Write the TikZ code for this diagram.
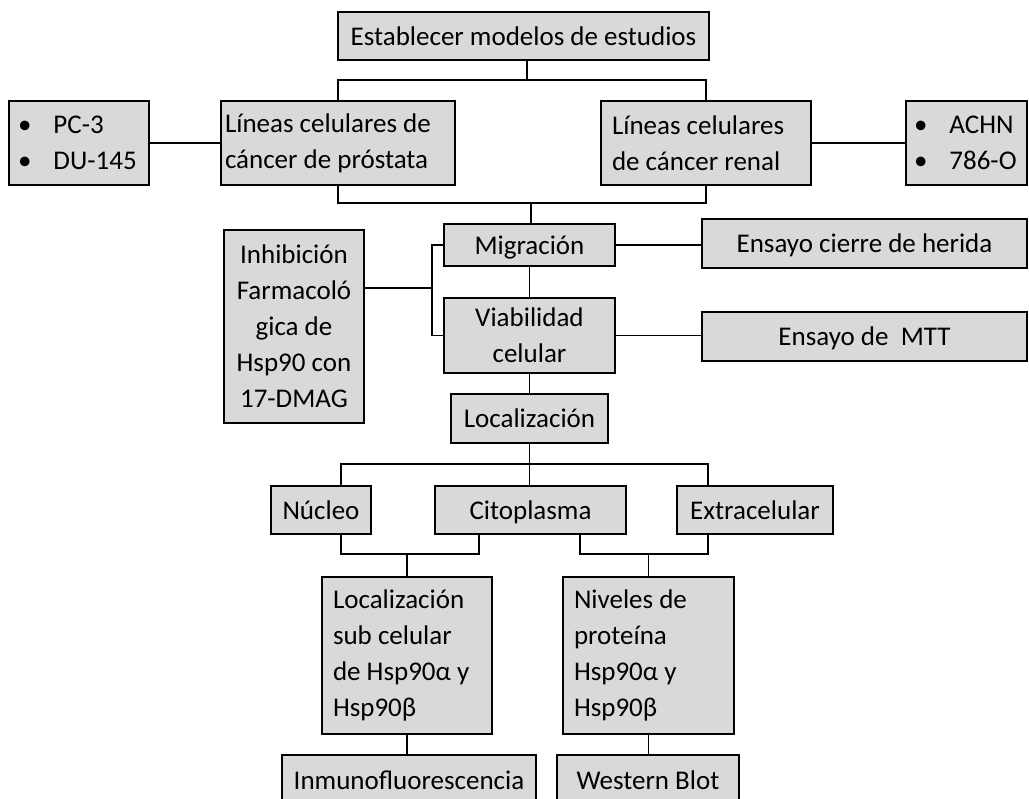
\documentclass[tikz,border=0pt]{standalone}
\usepackage{fontspec}
\setmainfont{Carlito}
\usepackage{tikz}
\usetikzlibrary{positioning}

\tikzset{
  cajabase/.style 2 args = {draw = black, fill = gray!30, line width = 1.8pt, inner sep = 0pt,
    minimum width = #1, minimum height = #2},
  caja/.style 2 args = {cajabase = {#1}{#2}, text height = 22pt, text depth = 3pt},
  cajaalta/.style 2 args = {cajabase = {#1}{#2}, align = center},
  cajaizq/.style 2 args = {cajabase = {#1}{#2}, text width = #1 - 22pt, align = flush left},
  linea/.style = {line width = 1.6pt, black}
}

\begin{document}
\begin{tikzpicture}[x = 1pt, y = -1pt, font = \fontsize{27}{36}\selectfont]
	\clip (0,0) rectangle (1029,799);
	\fill[white] (0,0) rectangle (1029,799);
	% nivel 1
	\node[caja = {371pt}{48pt}] (est) at (523.5,36) {Establecer modelos de estudios};
	\node[cajaizq = {234pt}{84pt}, text width = 226pt] (prost) at (338,143) {Líneas celulares de\\cáncer de próstata};
	\node[cajaizq = {210pt}{84pt}] (renal) at (706,143) {Líneas celulares\\de cáncer renal};
	\node[cajaizq = {140pt}{84pt}, text width = 122pt] (pc) at (79,143) {\textbullet\hspace{22pt}PC-3\\\textbullet\hspace{22pt}DU-145};
	\node[cajaizq = {121pt}{84pt}, text width = 105pt] (achn) at (966.5,143) {\textbullet\hspace{22pt}ACHN\\\textbullet\hspace{22pt}786-O};
	% nivel 2
	\node[caja = {171pt}{42pt}] (migr) at (529.5,245) {Migración};
	\node[cajaalta = {171pt}{75pt}] (viab) at (529.5,335.5) {Viabilidad\\celular};
	\node[cajaalta = {140pt}{193pt}] (inhib) at (294,326.5) {Inhibición\\Farmacoló\\gica de\\Hsp90 con\\17-DMAG};
	\node[caja = {325pt}{49pt}] (cierre) at (864.5,243.5) {Ensayo cierre de herida};
	\node[caja = {325pt}{49pt}] (mtt) at (864.5,336.5) {Ensayo de\ \ MTT};
	% nivel 3
	\node[caja = {157pt}{49pt}] (loc) at (529.5,418.5) {Localización};
	\node[caja = {100pt}{48pt}] (nuc) at (321,510) {Núcleo};
	\node[caja = {191pt}{48pt}] (cito) at (530.5,510) {Citoplasma};
	\node[caja = {156pt}{48pt}] (extra) at (755,510) {Extracelular};
	% nivel 4
	\node[cajaizq = {170pt}{157pt}] (subcel) at (407,655.5) {Localización\\sub celular\\de Hsp90α y\\Hsp90β};
	\node[cajaizq = {171pt}{157pt}] (niveles) at (648.5,655.5) {Niveles de\\proteína\\Hsp90α y\\Hsp90β};
	\node[caja = {254pt}{49pt}] (inmuno) at (409,779.5) {Inmunofluorescencia};
	\node[caja = {182pt}{49pt}] (western) at (648,779.5) {Western Blot};
	% uniones
	\coordinate (j1) at (527,80);
	\coordinate (j2) at (531,203);
	\coordinate (j3) at (432,288);
	\coordinate (j4a) at (341,464);
	\coordinate (j4b) at (708,464);
	\coordinate (j5a) at (341,554);
	\coordinate (j5b) at (479,554);
	\coordinate (j6a) at (580,554);
	\coordinate (j6b) at (708,554);
	\draw[linea] (est.south -| j1) -- (j1);
	\draw[linea] (prost.north) |- (j1) -| (renal.north);
	\draw[linea] (pc.east) -- (prost.west);
	\draw[linea] (renal.east) -- (achn.west);
	\draw[linea] (prost.south) |- (j2) -| (renal.south);
	\draw[linea] (j2) -- (j2 |- migr.north);
	\draw[linea] (migr.east) -- (migr.east -| cierre.west);
	\draw[linea] (migr.south) -- (viab.north);
	\draw[linea] (viab.east) -- (viab.east -| mtt.west);
	\draw[linea] (migr.west) -| (j3) |- (viab.west);
	\draw[linea] (inhib.east |- j3) -- (j3);
	\draw[linea] (viab.south) -- (loc.north);
	\draw[linea] (loc.south) -- (loc.south |- cito.north);
	\draw[linea] (j4a |- nuc.north) -- (j4a) -- (j4b) -- (j4b |- extra.north);
	\draw[linea] (j5a |- nuc.south) -- (j5a) -- (j5b) -- (j5b |- cito.south);
	\draw[linea] (subcel.north) -- (subcel.north |- j5a);
	\draw[linea] (j6a |- cito.south) -- (j6a) -- (j6b) -- (j6b |- extra.south);
	\draw[linea] (niveles.north) -- (niveles.north |- j6a);
	\draw[linea] (subcel.south) -- (subcel.south |- inmuno.north);
	\draw[linea] (niveles.south) -- (niveles.south |- western.north);
\end{tikzpicture}
\end{document}
